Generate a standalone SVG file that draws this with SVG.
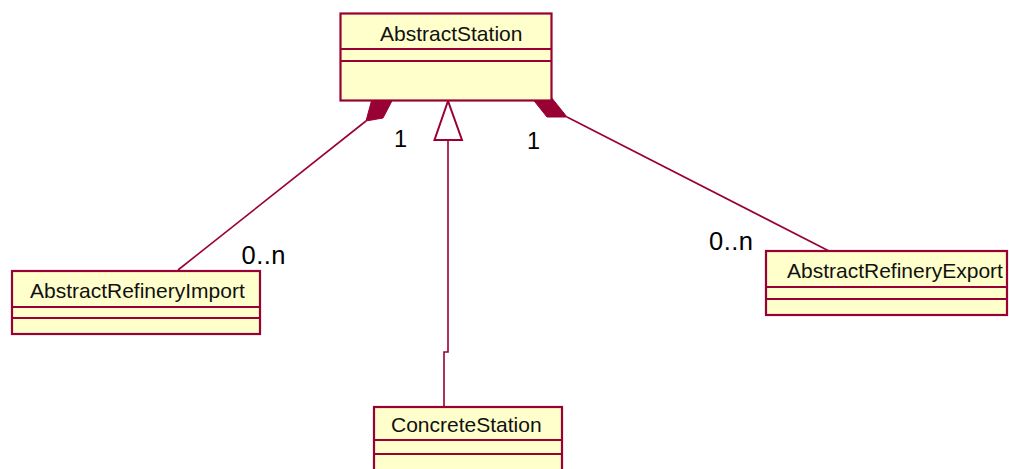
<svg xmlns="http://www.w3.org/2000/svg" width="1009" height="469" viewBox="0 0 1009 469">
<style>
.box{fill:#FFFFCC;stroke:#990033;stroke-width:2.2}
.sep{stroke:#990033;stroke-width:2}
.name{font-family:"Liberation Sans",Arial,sans-serif;font-size:21px;fill:#111}
.one{font-family:"Liberation Sans",Arial,sans-serif;font-size:23.5px;fill:#000}
.many{font-family:"Liberation Sans",Arial,sans-serif;font-size:25.5px;fill:#000;letter-spacing:0.5px}
.conn{fill:none;stroke:#990033;stroke-width:1.6}
.dia{fill:#990033;stroke:#990033;stroke-width:1}
.tri{fill:#fff;stroke:#990033;stroke-width:2}
</style>
<rect width="1009" height="469" fill="#fff"/>
<g id="connectors">
<line class="conn" x1="366" y1="121" x2="178" y2="270"/>
<polygon class="dia" points="366,121 383,118 394,97 372,99"/>
<line class="conn" x1="567" y1="117" x2="829" y2="251"/>
<polygon class="dia" points="531,97 551,97 567,117 547,117"/>
<polyline class="conn" points="448,140 448,352 444,352 444,407"/>
<polygon class="tri" points="448,101 434.5,140 462,140"/>
</g>
<g id="AbstractStation">
<rect class="box" x="340.5" y="13.5" width="211" height="87"/>
<line class="sep" x1="340.5" y1="49" x2="551.5" y2="49"/>
<line class="sep" x1="340.5" y1="61" x2="551.5" y2="61"/>
<text class="name" x="380" y="41">AbstractStation</text>
</g>
<g id="AbstractRefineryImport">
<rect class="box" x="12" y="271" width="248" height="63"/>
<line class="sep" x1="12" y1="307" x2="260" y2="307"/>
<line class="sep" x1="12" y1="318" x2="260" y2="318"/>
<text class="name" x="30" y="298">AbstractRefineryImport</text>
</g>
<g id="AbstractRefineryExport">
<rect class="box" x="766" y="251" width="241" height="64"/>
<line class="sep" x1="766" y1="287" x2="1007" y2="287"/>
<line class="sep" x1="766" y1="299" x2="1007" y2="299"/>
<text class="name" x="787" y="278">AbstractRefineryExport</text>
</g>
<g id="ConcreteStation">
<rect class="box" x="374" y="407" width="188" height="80"/>
<line class="sep" x1="374" y1="440" x2="562" y2="440"/>
<line class="sep" x1="374" y1="454" x2="562" y2="454"/>
<text class="name" x="391" y="432">ConcreteStation</text>
</g>
<g id="labels">
<text class="one" x="394" y="147">1</text>
<text class="one" x="527" y="149">1</text>
<text class="many" x="241.5" y="263.5">0..n</text>
<text class="many" x="709" y="249.5">0..n</text>
</g>
</svg>
